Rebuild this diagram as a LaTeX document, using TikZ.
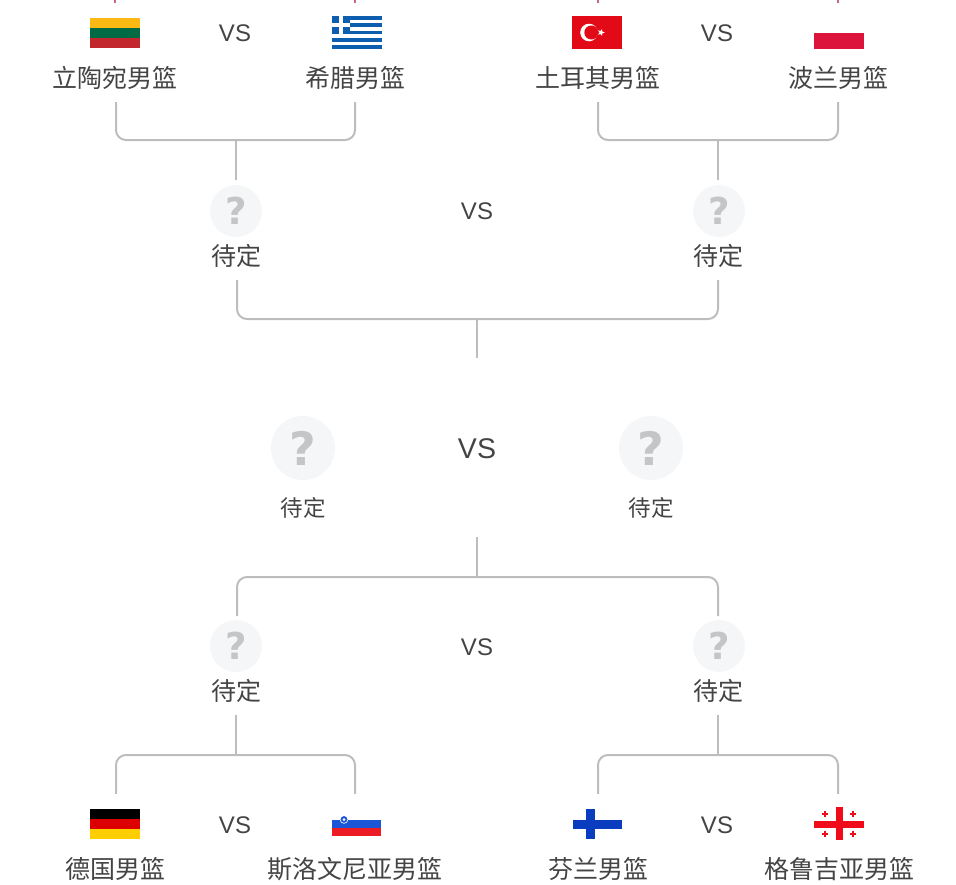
\documentclass[tikz,border=0pt]{standalone}
\usepackage{fontspec}
\setmainfont{Liberation Sans}
\newfontfamily\cjk{Noto Sans CJK SC}
\newfontfamily\qfont[Scale=1]{DejaVu Sans}
\usetikzlibrary{shapes.geometric}
\definecolor{txt}{HTML}{444444}
\definecolor{linec}{HTML}{BDBDBD}
\definecolor{disc}{HTML}{F5F6F7}
\definecolor{qm}{HTML}{C4C5C7}
\definecolor{stub}{HTML}{C96A7A}
\definecolor{ltY}{HTML}{FDB913}
\definecolor{ltG}{HTML}{006A44}
\definecolor{ltR}{HTML}{C1272D}
\definecolor{grB}{HTML}{0D5EAF}
\definecolor{trR}{HTML}{E30A17}
\definecolor{plR}{HTML}{DC143C}
\definecolor{deR}{HTML}{DD0000}
\definecolor{deY}{HTML}{FFCE00}
\definecolor{siB}{HTML}{1A56D6}
\definecolor{siR}{HTML}{ED1C24}
\definecolor{fiB}{HTML}{0A3CC0}
\definecolor{geR}{HTML}{F00B1A}
\tikzset{
  team/.style={font=\cjk\fontsize{25}{30}\selectfont,text=txt,inner sep=0pt,minimum height=48pt},
  tbd/.style={team},
  bigtbd/.style={font=\cjk\fontsize{22.5}{27}\selectfont,text=txt,inner sep=0pt},
  vs/.style={font=\fontsize{24}{28}\selectfont,text=txt,inner sep=0pt},
  bigvs/.style={font=\fontsize{28.5}{32}\selectfont,text=txt,inner sep=0pt},
  flagbox/.style={minimum width=50pt,minimum height=33pt,inner sep=0pt},
  pending/.style={circle,fill=disc,minimum size=52pt,inner sep=0pt,text=qm,font=\qfont\bfseries\fontsize{37}{37}\selectfont},
  bigpending/.style={circle,fill=disc,minimum size=64pt,inner sep=0pt,text=qm,font=\qfont\bfseries\fontsize{46}{46}\selectfont},
  conn/.style={draw=linec,line width=2pt,rounded corners=10pt},
  stubline/.style={draw=stub,line width=2pt},
}
\begin{document}
\begin{tikzpicture}[x=1pt,y=-1pt]
\useasboundingbox (0,0) rectangle (956,884);
% ---- flags (artwork)
% Lithuania
\fill[ltY] (90,18) rectangle (140,28);
\fill[ltG] (90,28) rectangle (140,38);
\fill[ltR] (90,38) rectangle (140,48);
% Greece
\foreach \i in {0,2,4,6,8}{\fill[grB] (332,16+\i*3.67) rectangle (382,16+\i*3.67+3.67);}
\fill[grB] (332,16) rectangle (350.4,34.4);
\fill[white] (339.4,16) rectangle (343,34.4);
\fill[white] (332,23.4) rectangle (350.4,27);
% Turkey
\fill[trR] (572,16) rectangle (622,49);
\fill[white] (589,32.5) circle (8.8);
\fill[trR] (591.3,32.5) circle (7);
\node[star,star points=5,star point ratio=2.4,fill=white,inner sep=0pt,minimum size=7.5pt,rotate=-90] (trstar) at (601,32.5) {};
% Poland
\fill[plR] (814,32.5) rectangle (864,48.5);
% Germany
\fill[black] (90,809) rectangle (140,819);
\fill[deR] (90,819) rectangle (140,829);
\fill[deY] (90,829) rectangle (140,839);
% Slovenia
\fill[siB] (332,820) rectangle (381,828);
\fill[siR] (332,828) rectangle (381,836);
\fill[white] (344,819.5) circle (4.2);
\fill[siB] (344,819.5) circle (3.4);
\fill[white] (344,819.5) circle (1.5);
% Finland
\fill[fiB] (573,820) rectangle (622,829);
\fill[fiB] (586,809) rectangle (595,839);
% Georgia
\fill[geR] (814,821) rectangle (864,828);
\fill[geR] (836,807) rectangle (843,840);
\foreach \cx/\cy in {824.5/814,853/814,824.5/834,853/834}{
  \fill[geR] (\cx-3,\cy-1) rectangle (\cx+3,\cy+1);
  \fill[geR] (\cx-1,\cy-3) rectangle (\cx+1,\cy+3);
}
% ---- flag footprints
\node[flagbox] (fde) at (116,824) {};
\node[flagbox] (fsi) at (355,824) {};
\node[flagbox] (ffi) at (598,824) {};
\node[flagbox] (fge) at (838,824) {};
% ---- team labels
\node[team] (lt) at (115,78) {立陶宛男篮};
\node[team] (gr) at (355,78) {希腊男篮};
\node[team] (tr) at (598,78) {土耳其男篮};
\node[team] (pl) at (838,78) {波兰男篮};
\node[team] (de) at (115,869) {德国男篮};
\node[team] (si) at (355,869) {斯洛文尼亚男篮};
\node[team] (fi) at (598,869) {芬兰男篮};
\node[team] (ge) at (839,869) {格鲁吉亚男篮};
% ---- VS
\node[vs] (vsa) at (235,33) {VS};
\node[vs] (vsb) at (717,33) {VS};
\node[vs] (vsc) at (477,211) {VS};
\node[bigvs] (vsd) at (477,449) {VS};
\node[vs] (vse) at (477,647) {VS};
\node[vs] (vsf) at (235,825) {VS};
\node[vs] (vsg) at (717,825) {VS};
% ---- pending discs
\node[pending] (qa) at (236,211) {?};
\node[pending] (qb) at (719,211) {?};
\node[tbd] (ta) at (236,256) {待定};
\node[tbd] (tb) at (718,256) {待定};
\node[bigpending] (qc) at (303,448) {?};
\node[bigpending] (qd) at (651,448) {?};
\node[bigtbd] (tc) at (303,508) {待定};
\node[bigtbd] (td) at (651,508) {待定};
\node[pending] (qe) at (236,646) {?};
\node[pending] (qf) at (719,646) {?};
\node[tbd] (te) at (236,691) {待定};
\node[tbd] (tf) at (718,691) {待定};
% ---- junctions
\coordinate (ja) at (236,140);
\coordinate (jb) at (718,140);
\coordinate (jc) at (477,319);
\coordinate (jcend) at (477,358);
\coordinate (jd) at (477,577);
\coordinate (jdend) at (477,537);
\coordinate (je) at (236,755);
\coordinate (jf) at (718,755);
\coordinate (ce) at (237,616);
\coordinate (cf) at (718,616);
% ---- connectors
\draw[conn] ([xshift=1pt]lt.south) |- (ja) -| (gr.south);
\draw[conn] (tr.south) |- (jb) -| (pl.south);
\draw[conn,shorten >=5pt] (ja) -- (qa.north -| ja);
\draw[conn,shorten >=5pt] (jb) -- (qb.north -| jb);
\draw[conn] ([xshift=1pt]ta.south) |- (jc) -| (tb.south);
\draw[conn] (jc) -- (jcend);
\draw[conn] (jdend) -- (jd);
\draw[conn] (ce) |- (jd) -| (cf);
\draw[conn] (te.south) -- (je);
\draw[conn] (tf.south) -- (jf);
\draw[conn,shorten <=13.5pt,shorten >=13.5pt] (fde.north) |- (je) -| (fsi.north);
\draw[conn,shorten <=13.5pt,shorten >=13.5pt] (ffi.north) |- (jf) -| (fge.north);
% ---- clipped stubs at the top edge
\coordinate (sa) at (115,0);\coordinate (sb) at (355,0);\coordinate (sc) at (598,0);\coordinate (sd) at (838,0);
\draw[stubline] (sa) -- ++(0,3);
\draw[stubline] (sb) -- ++(0,3);
\draw[stubline] (sc) -- ++(0,3);
\draw[stubline] (sd) -- ++(0,3);
\end{tikzpicture}
\end{document}
